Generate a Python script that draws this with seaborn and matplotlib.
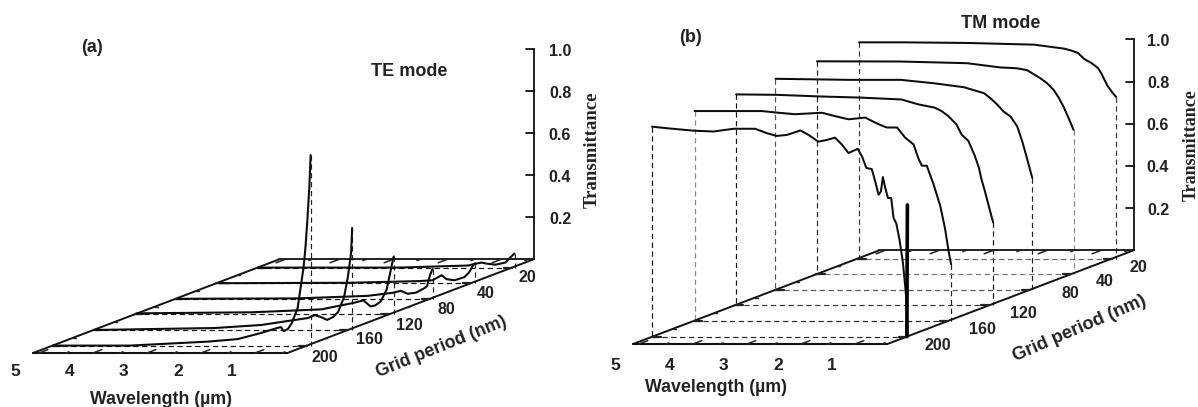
import numpy as np
import pandas as pd
import matplotlib
matplotlib.use("Agg")
import matplotlib.pyplot as plt
import seaborn as sns

PERIODS = [200, 160, 120, 80, 40, 20]
WAVELENGTH_TICKS = [5, 4, 3, 2, 1]
T_TICKS = [0.2, 0.4, 0.6, 0.8, 1.0]

# TE mode: wavelength (um) and transmittance per grid period
TE_200_WL = [5.1, 3.68, 2.23, 1.68, 1.25, .96, .88, .83, .75, .68, .57, .46, .425, .39, .354, .33]
TE_200_T = [0, 0, .019, .031, .06, .083, .088, .069, .079, .107, .179, .374, .469, .598, .755, .907]
TE_160_WL = [5.1, 2.86, 2.0, 1.64, 1.14, 1.01, .90, .785, .67, .58, .47, .40, .34, .32]
TE_160_T = [0, .0095, .024, .038, .057, .071, .062, .048, .062, .086, .157, .252, .367, .486]
TE_120_WL = [5.07, 2.94, 1.65, 1.05, .87, .74, .65, .55, .44, .35, .31]
TE_120_T = [.005, .01, .024, .055, .067, .038, .043, .062, .119, .229, .276]
TE_80_WL = [5.07, 2.84, 1.55, 1.08, .94, .81, .66, .49, .45, .40, .35]
TE_80_T = [0, .002, .014, .029, .038, .024, .029, .052, .062, .11, .143]
TE_40_WL = [5.05, 2.65, 1.35, 1.11, .94, .85, .70, .52, .43, .37, .32]
TE_40_T = [0, .002, .01, .014, .038, .019, .014, .029, .052, .081, .095]
TE_20_WL = [5.09, 2.5, 1.2, 1.15, .96, .87, .70, .52, .43, .35]
TE_20_T = [0, 0, .01, .014, .024, .019, .014, .024, .048, .067]

# TM mode
TM_200_WL = [5.12, 4.78, 4.35, 3.98, 3.61, 3.21, 2.99, 2.81, 2.62, 2.37, 2.22, 2.04, 1.88, 1.73, 1.60, 1.48,
             1.31, 1.23, 1.15, 1.05, .985, .924, .88, .843, .80, .75, .69, .645, .596, .535, .472, .43, .398, .383]
TM_200_T = [.995, .986, .976, .972, .985, .985, .964, .951, .956, .977, .956, .924, .932, .943, .909, .87,
            .89, .854, .799, .794, .735, .672, .688, .756, .704, .657, .657, .561, .537, .458, .349, .237, .142, 0]
TM_200_SPIKE_WL = [.40, .39]
TM_200_SPIKE_T = [0, .624]
TM_160_WL = [5.09, 4.34, 3.84, 3.54, 3.23, 2.73, 2.49, 2.24, 1.93, 1.68, 1.53, 1.34, 1.19, 1.035, .94, .88, .79, .665, .54, .45, .387, .34]
TM_160_T = [.995, .995, .995, .987, .98, .987, .971, .956, .964, .932, .917, .917, .869, .837, .767, .736, .736, .648, .545, .435, .332, .269]
TM_120_WL = [5.08, 4.33, 3.5, 2.79, 2.02, 1.71, 1.40, 1.276, 1.15, 1.0, .906, .78, .66, .585, .535, .474, .41, .32]
TM_120_T = [1.0, .998, .99, .985, .976, .953, .937, .921, .897, .858, .81, .78, .709, .653, .597, .542, .479, .393]
TM_80_WL = [5.11, 3.74, 2.79, 2.18, 1.62, 1.25, 1.13, 1.0, .887, .757, .633, .54, .48, .42, .355]
TM_80_T = [1.0, .995, .995, .979, .96, .932, .908, .877, .845, .821, .774, .703, .648, .592, .53]
TM_40_WL = [5.10, 3.56, 2.32, 1.71, 1.40, 1.21, .967, .84, .72, .63, .535, .44, .35]
TM_40_T = [1.009, 1.008, 1.0, .98, .976, .967, .929, .905, .874, .839, .794, .739, .684]
TM_20_WL = [5.08, 4.30, 3.07, 1.84, 1.28, 1.15, 1.03, .91, .785, .66, .60, .476, .383, .32]
TM_20_T = [1.025, 1.025, 1.022, 1.014, .995, .986, .975, .946, .928, .904, .88, .817, .785, .766]

TE = [(TE_200_WL, TE_200_T), (TE_160_WL, TE_160_T), (TE_120_WL, TE_120_T),
      (TE_80_WL, TE_80_T), (TE_40_WL, TE_40_T), (TE_20_WL, TE_20_T)]
TM = [(TM_200_WL, TM_200_T), (TM_160_WL, TM_160_T), (TM_120_WL, TM_120_T),
      (TM_80_WL, TM_80_T), (TM_40_WL, TM_40_T), (TM_20_WL, TM_20_T)]

sns.set_theme(style="white")
SANS = "Liberation Sans"
SERIF = "Liberation Serif"
plt.rcParams["font.family"] = [SANS, "DejaVu Sans"]

W, H = 1198, 407
fig = plt.figure(figsize=(W / 100, H / 100), dpi=100, facecolor="white")
ax_a = fig.add_axes([0, 0, 600 / W, 1])
ax_b = fig.add_axes([600 / W, 0, 598 / W, 1])

WL_MIN, WL_MAX = 0.4, 5.11
D_MIN, D_MAX = -0.48, 5.53


class Panel:
    def __init__(self, x0, y0, tscale):
        self.x0, self.y0, self.tscale = x0, y0, tscale

    def xy(self, wl, d, t=0.0):
        wl, d, t = np.asarray(wl, float), np.asarray(d, float), np.asarray(t, float)
        yf = self.y0 - 15.6 * d
        return self.x0 - 54 * wl + 2.628 * (self.y0 + 7.4 - yf), yf - self.tscale * t


def draw(ax, p, series, xlim, curve_lw, dash_left, dash_right, dash_floor, label_y, ttext_x, t_dy,
         period_xy, spike=None):
    ax.set_xlim(*xlim)
    ax.set_ylim(H, 0)
    # dashed guides
    for i, (wl, t) in enumerate(series):
        xe, ye = p.xy(wl[-1], i, t[-1])
        xs, ys = p.xy(wl[0], i, t[0])
        fx, fy = p.xy([WL_MAX, WL_MIN], [i, i])
        kw = dict(lw=0.85, dashes=(4.5, 3), zorder=1, solid_capstyle="butt")
        ax.plot(fx, fy, color=dash_floor[i], **kw)
        ax.plot([xs, xs], [ys, p.xy(wl[0], i)[1]], color=dash_left[i], **kw)
        ax.plot([xe, xe], [ye, p.xy(wl[-1], i)[1]], color=dash_right[i], **kw)
    # floor
    cx, cy = p.xy([WL_MAX, WL_MIN, WL_MIN, WL_MAX, WL_MAX], [D_MIN, D_MIN, D_MAX, D_MAX, D_MIN])
    ax.plot(cx[:2], cy[:2], color="#111111", lw=1.5, zorder=2)
    ax.plot(cx[1:3], cy[1:3], color="#111111", lw=1.4, zorder=2)
    ax.plot(cx[2:4], cy[2:4], color="#111111", lw=1.3, zorder=2)
    ax.plot(cx[3:5], cy[3:5], color="#111111", lw=1.4, zorder=2)
    # floor ticks along wavelength (front and back edges, pointing along depth)
    for w in np.arange(0.5, 5.01, 0.5):
        major = float(w).is_integer()
        dd = 0.22 if major else 0.08
        xs, ys = p.xy([w, w], [D_MIN, D_MIN + dd])
        ax.plot(xs, ys, color="#222222", lw=1.1, zorder=2)
        xs, ys = p.xy([w, w], [D_MAX, D_MAX - dd])
        ax.plot(xs, ys, color="#222222", lw=1.1, zorder=2)
    # floor ticks along depth (left and right edges)
    for d in np.arange(0, 5.01, 0.5):
        major = float(d).is_integer()
        dw = 0.15 if major else 0.05
        xs, ys = p.xy([WL_MAX, WL_MAX - dw], [d, d])
        ax.plot(xs, ys, color="#222222", lw=1.6 if major else 1.0, zorder=2)
        xs, ys = p.xy([WL_MIN, WL_MIN + dw], [d, d])
        ax.plot(xs, ys, color="#222222", lw=1.6 if major else 1.0, zorder=2)
    # curves
    rows = []
    for i, (wl, t) in enumerate(series):
        xs, ys = p.xy(wl, np.full(len(wl), i), t)
        rows.append(pd.DataFrame({"px": xs, "py": ys, "period": PERIODS[i]}))
    df = pd.concat(rows, ignore_index=True)
    sns.lineplot(data=df, x="px", y="py", units="period", estimator=None, sort=False,
                 color="#0c0c0c", lw=curve_lw, legend=False, ax=ax, zorder=4)
    if spike is not None:
        xs, ys = p.xy(spike[0], [0, 0], spike[1])
        sns.lineplot(x=xs, y=ys, estimator=None, sort=False, color="black", lw=2.6,
                     legend=False, ax=ax, zorder=5)
    # vertical axis
    ax_x, ax_y0 = p.xy(WL_MIN, D_MAX)
    _, ax_y1 = p.xy(WL_MIN, D_MAX, 1.0)
    ax.plot([ax_x, ax_x], [ax_y0, ax_y1], color="#111111", lw=1.3, zorder=3)
    for t in T_TICKS:
        _, yy = p.xy(WL_MIN, D_MAX, t)
        ax.plot([ax_x - 8, ax_x], [yy, yy], color="#111111", lw=1.3, zorder=3)
        ax.text(ttext_x, yy + t_dy, f"{t:.1f}", ha="center", va="center", fontsize=11.5,
                fontweight="bold", color="#222222")
    # wavelength labels
    for w in WAVELENGTH_TICKS:
        xx, _ = p.xy(w, D_MIN)
        ax.text(xx - 23, label_y, str(w), ha="center", va="center", fontsize=12.5,
                fontweight="bold", color="#222222")
    # period labels
    for per, (xx, yy) in zip(PERIODS, period_xy):
        ax.text(xx, yy, str(per), ha="center", va="center", fontsize=11.5,
                fontweight="bold", color="#222222")
    ax.set_axis_off()


draw(ax_a, Panel(309, 345.6, 210), TE, (0, 600), 1.5,
     ["#111111"] * 6, ["#222222"] * 6, ["#111111"] * 6, 372, 560, 2,
     [(325, 357), (369, 340), (409, 325), (446, 309), (486, 293), (527, 278)])
draw(ax_b, Panel(909, 336.6, 211), TM, (600, 1198), 1.45,
     ["#111111", "#8a8a8a", "#111111", "#555555", "#222222", "#333333"],
     ["#111111", "#222222", "#111111", "#222222", "#888888", "#333333"],
     ["#222222", "#222222", "#333333", "#555555", "#777777", "#666666"],
     365, 1158, 2,
     [(938, 346), (982, 330), (1023, 313), (1070, 293), (1105, 282), (1138, 267)],
     spike=(TM_200_SPIKE_WL, TM_200_SPIKE_T))

TXT = dict(color="#222222", fontweight="bold")
ax_a.text(92, 48, "(a)", ha="center", va="center", fontsize=13, **TXT)
ax_b.text(690, 38, "(b)", ha="center", va="center", fontsize=13, **TXT)
ax_a.text(409, 72, "TE mode", ha="center", va="center", fontsize=13, **TXT)
ax_b.text(1001, 23, "TM mode", ha="center", va="center", fontsize=13, **TXT)
ax_a.text(160.5, 399, "Wavelength (\u00b5m)", ha="center", va="center", fontsize=12.8, clip_on=False, **TXT)
ax_b.text(716, 387, "Wavelength (\u00b5m)", ha="center", va="center", fontsize=12.8, **TXT)
ax_a.text(441, 347, "Grid period (nm)", ha="center", va="center", rotation=22, rotation_mode="anchor", fontsize=12.8, **TXT)
ax_b.text(1080, 329, "Grid period (nm)", ha="center", va="center", rotation=23.5, rotation_mode="anchor", fontsize=13.2, **TXT)
ax_a.text(592, 150, "Transmittance", ha="center", va="center", rotation=90, family=SERIF, fontsize=13.5, fontweight="bold", color="#222222")
ax_b.text(1191, 145, "Transmittance", ha="center", va="center", rotation=90, family=SERIF, fontsize=13, fontweight="bold", color="#222222")

fig.savefig("out.png", dpi=100, facecolor="white")
